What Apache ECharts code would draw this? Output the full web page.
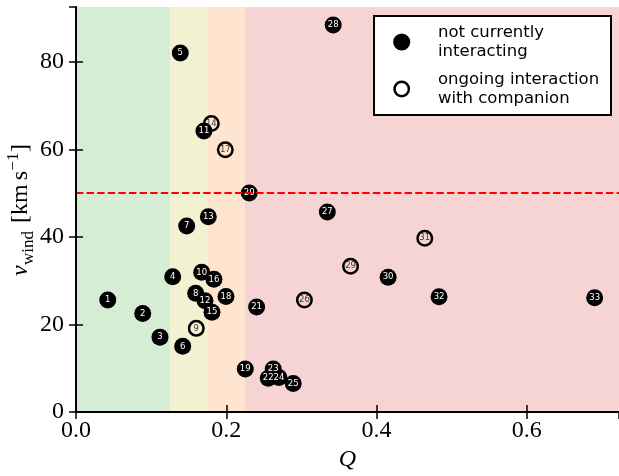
<!DOCTYPE html>
<html>
<head>
<meta charset="utf-8">
<script src="https://cdn.jsdelivr.net/npm/echarts@6/dist/echarts.min.js"></script>
<style>
  html, body { margin: 0; padding: 0; background: #fff; }
  #chart { width: 619px; height: 476px; }
</style>
</head>
<body>
<div id="chart"></div>
<script>
// Source catalogue: index, interaction parameter Q and wind speed (km/s)
const sourceIds = [1, 2, 3, 4, 5, 6, 7, 8, 9, 10, 11, 12, 13, 14, 15, 16, 17,
  18, 19, 20, 21, 22, 23, 24, 25, 26, 27, 28, 29, 30, 31, 32, 33];
const qValues = [0.0423, 0.0888, 0.1118, 0.1287, 0.1388, 0.1420, 0.1473, 0.1593,
  0.1601, 0.1673, 0.1703, 0.1717, 0.1761, 0.1801, 0.1810, 0.1836, 0.1987, 0.1996,
  0.2253, 0.2306, 0.2404, 0.2559, 0.2625, 0.2701, 0.2891, 0.3040, 0.3345, 0.3423,
  0.3654, 0.4154, 0.4642, 0.4832, 0.6903];
const windSpeeds = [25.6, 22.5, 17.1, 30.9, 82.0, 15.0, 42.5, 27.1, 19.1, 31.9,
  64.2, 25.4, 44.6, 65.9, 22.8, 30.3, 59.9, 26.4, 9.8, 50.0, 24.0, 7.7, 9.8, 7.9,
  6.5, 25.6, 45.7, 88.4, 33.3, 30.8, 39.7, 26.3, 26.1];
// Sources with an ongoing companion interaction (drawn as open circles)
const ongoingIds = [9, 14, 17, 26, 29, 31];

// Q regimes shaded in the background
const bandEdges = [0, 0.125, 0.175, 0.225, 0.7227];
const bandColors = ['#d5ecd5', '#f2f2d3', '#ffe5cf', '#f7d4d4'];
const windThreshold = 50;

const xRange = [0, 0.7227];
const yRange = [0, 92.5];
const xTicks = [0, 0.2, 0.4, 0.6];
const yTicks = [0, 20, 40, 60, 80];
const legendLabels = ['not currently\ninteracting', 'ongoing interaction\nwith companion'];

const serif = '"Liberation Serif", "DejaVu Serif", serif';
const sans = '"DejaVu Sans", sans-serif';

const filledPoints = [];
const openPoints = [];
sourceIds.forEach((id, i) => {
  const pt = [qValues[i], windSpeeds[i], id];
  (ongoingIds.includes(id) ? openPoints : filledPoints).push(pt);
});

const bandAreas = bandColors.map((c, i) => [
  { xAxis: bandEdges[i], itemStyle: { color: c, opacity: 1 } },
  { xAxis: bandEdges[i + 1] }
]);

const isTick = (v, ticks) => ticks.some(t => Math.abs(t - v) < 1e-9);

const markerLabel = (color) => ({
  show: true,
  position: 'inside',
  formatter: p => String(p.value[2]),
  color: color,
  fontFamily: sans,
  fontSize: 8.5
});

// y-axis title: v_wind [km s^-1], laid out piece by piece along a rotated baseline
const measureCtx = document.createElement('canvas').getContext('2d');
function textWidth(str, font) { measureCtx.font = font; return measureCtx.measureText(str).width; }
const mainSize = 24, subSize = 17;
const yTitlePieces = [
  { t: 'v', size: mainSize, style: 'italic', dy: 0, after: 0.5 },
  { t: 'wind', size: subSize, style: 'normal', dy: 5, after: 8 },
  { t: '[km', size: mainSize, style: 'normal', dy: 0, after: 4 },
  { t: 's', size: mainSize, style: 'normal', dy: 0, after: 0.5 },
  { t: '\u22121', size: subSize, style: 'normal', dy: -10, after: 0.5 },
  { t: ']', size: mainSize, style: 'normal', dy: 0, after: 0 }
];
let cursor = 0;
const yTitleChildren = yTitlePieces.map(p => {
  const font = `${p.style} ${p.size}px ${serif}`;
  const el = {
    type: 'text',
    x: cursor,
    y: p.dy - 0.3375 * p.size,
    style: {
      text: p.t, fill: '#000', fontFamily: serif, fontSize: p.size,
      fontStyle: p.style, textAlign: 'left', textVerticalAlign: 'middle'
    }
  };
  cursor += textWidth(p.t, font) + p.after;
  return el;
});
const yTitleLength = cursor;

const chart = echarts.init(document.getElementById('chart'), null, { renderer: 'canvas' });

const frameLine = { show: true, lineStyle: { color: '#000', width: 2 } };
const innerTicks = { show: true, inside: true, length: 7, lineStyle: { color: '#000', width: 1.5 } };

const legendText = (label, cy) => ({
  type: 'text', x: 64, y: cy, z: 101,
  style: { text: label, fill: '#000', fontFamily: sans, fontSize: 16.5,
    lineHeight: 19, textVerticalAlign: 'middle' }
});

chart.setOption({
  animation: false,
  backgroundColor: '#fff',
  grid: { left: 76, right: 0, top: 7, bottom: 64, containLabel: false, outerBoundsMode: 'none' },
  xAxis: [
    {
      type: 'value', position: 'bottom', min: xRange[0], max: xRange[1], interval: 0.2, z: 10,
      axisLine: frameLine, axisTick: innerTicks, splitLine: { show: false },
      axisLabel: {
        color: '#000', fontFamily: serif, fontSize: 24, margin: 7, showMaxLabel: false,
        formatter: v => isTick(v, xTicks) ? v.toFixed(1) : ''
      },
      name: 'Q', nameLocation: 'middle', nameGap: 35,
      nameTextStyle: { color: '#000', fontFamily: serif, fontStyle: 'italic', fontSize: 24 }
    },
    {
      type: 'value', position: 'top', min: xRange[0], max: xRange[1], interval: 0.2, z: 10,
      axisLine: frameLine, axisTick: innerTicks, axisLabel: { show: false }, splitLine: { show: false }
    }
  ],
  yAxis: [
    {
      type: 'value', position: 'left', min: yRange[0], max: yRange[1], interval: 20, z: 10,
      axisLine: frameLine, axisTick: innerTicks, splitLine: { show: false },
      axisLabel: {
        color: '#000', fontFamily: serif, fontSize: 24, margin: 12, showMaxLabel: false,
        formatter: v => isTick(v, yTicks) ? String(v) : ''
      }
    },
    {
      type: 'value', position: 'right', min: yRange[0], max: yRange[1], interval: 20, z: 10,
      axisLine: frameLine, axisTick: innerTicks, axisLabel: { show: false }, splitLine: { show: false }
    }
  ],
  series: [
    {
      name: 'regimes', type: 'scatter', data: [], z: 1, silent: true,
      markArea: { silent: true, data: bandAreas }
    },
    {
      name: 'threshold', type: 'scatter', data: [], z: 2, silent: true,
      markLine: {
        silent: true, symbol: ['none', 'none'], label: { show: false },
        lineStyle: { color: '#ff0000', width: 2, type: [7.4, 3.2] },
        data: [{ yAxis: windThreshold }]
      }
    },
    {
      name: 'ongoing interaction with companion', type: 'scatter', z: 3,
      symbol: 'circle', symbolSize: 14.5, data: openPoints,
      itemStyle: { color: 'rgba(0,0,0,0)', borderColor: '#000', borderWidth: 2.5, opacity: 1 },
      label: markerLabel('#3a3a3a'), emphasis: { disabled: true }
    },
    {
      name: 'not currently interacting', type: 'scatter', z: 4,
      symbol: 'circle', symbolSize: 17, data: filledPoints,
      itemStyle: { color: '#000', opacity: 1 },
      label: markerLabel('#fff'), emphasis: { disabled: true }
    }
  ],
  graphic: [
    {
      type: 'group', x: 29, y: 210 + yTitleLength / 2, rotation: Math.PI / 2,
      children: yTitleChildren
    },
    {
      type: 'group', x: 374, y: 16,
      children: [
        { type: 'rect', z: 100, shape: { x: 0, y: 0, width: 237, height: 99 },
          style: { fill: '#fff', stroke: '#000', lineWidth: 2 } },
        { type: 'circle', z: 101, shape: { cx: 27.7, cy: 26, r: 8.6 }, style: { fill: '#000' } },
        { type: 'circle', z: 101, shape: { cx: 27.7, cy: 73, r: 7.2 },
          style: { fill: '#fff', stroke: '#000', lineWidth: 2.5 } },
        legendText(legendLabels[0], 26),
        legendText(legendLabels[1], 73)
      ]
    }
  ]
});
</script>
</body>
</html>
